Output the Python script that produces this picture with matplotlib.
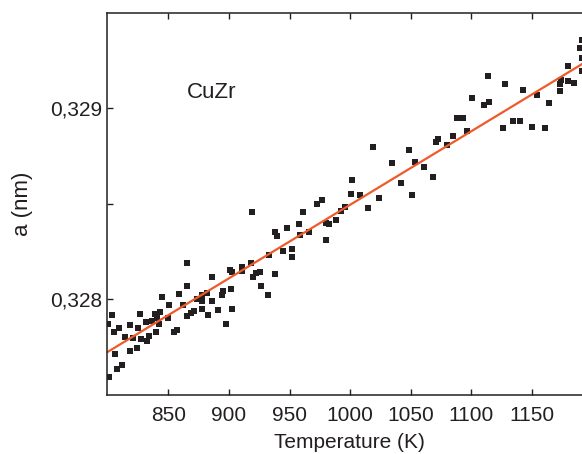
import numpy as np
import matplotlib.pyplot as plt
from matplotlib.ticker import FixedLocator, FuncFormatter

plt.rcParams['font.family'] = ['Liberation Sans', 'DejaVu Sans']

# Measured lattice parameter of CuZr vs temperature
temperature = [800.0, 801.1, 803.4, 805.3, 805.6, 807.3, 809.4, 811.9, 814.4, 818.2,
               818.2, 820.5, 824.3, 824.6, 826.7, 827.3, 831.2, 832.0, 833.9, 836.2,
               839.1, 839.7, 840.3, 842.4, 843.0, 844.4, 849.9, 850.4, 854.6, 856.8,
               859.0, 862.3, 865.6, 865.6, 865.1, 868.4, 871.3, 873.3, 877.5, 878.0,
               877.5, 881.6, 882.9, 885.7, 886.2, 891.2, 895.3, 894.5, 897.5, 900.8,
               902.2, 901.6, 902.7, 910.5, 910.5, 918.2, 919.4, 920.1, 922.0, 925.6,
               926.2, 932.4, 933.0, 938.0, 939.9, 938.0, 944.8, 947.9, 951.8, 952.3,
               958.0, 958.6, 961.4, 966.1, 972.4, 977.0, 980.1, 982.8, 980.1, 988.4,
               992.5, 995.8, 1001.3, 1000.7, 1008.2, 1014.4, 1019.2, 1023.7, 1034.4, 1042.0,
               1048.6, 1050.9, 1053.6, 1061.2, 1068.6, 1071.0, 1072.2, 1079.8, 1085.2, 1088.5,
               1093.5, 1096.8, 1100.4, 1110.6, 1114.1, 1114.5, 1126.1, 1128.1, 1134.9, 1140.5,
               1142.4, 1150.0, 1154.3, 1160.9, 1164.5, 1173.3, 1173.7, 1174.0, 1179.7, 1184.7,
               1180.2, 1189.9, 1191.3, 1191.3, 1191.3]
lattice_a = [0.327873, 0.327596, 0.327917, 0.327828, 0.327716, 0.327638, 0.327849, 0.327658, 0.327802, 0.327867,
             0.327729, 0.327797, 0.327745, 0.327851, 0.327924, 0.327795, 0.327882, 0.327785, 0.327811, 0.327885,
             0.327924, 0.327828, 0.327905, 0.327872, 0.327932, 0.328013, 0.327903, 0.327972, 0.327832, 0.327841,
             0.328030, 0.327972, 0.328193, 0.328070, 0.327914, 0.327929, 0.327940, 0.328004, 0.328024, 0.327993,
             0.327950, 0.328033, 0.327920, 0.328118, 0.327990, 0.327943, 0.328042, 0.328024, 0.327871, 0.328153,
             0.328143, 0.328054, 0.327950, 0.328172, 0.328149, 0.328191, 0.328458, 0.328118, 0.328137, 0.328143,
             0.328070, 0.328023, 0.328233, 0.328354, 0.328332, 0.328135, 0.328254, 0.328375, 0.328262, 0.328221,
             0.328394, 0.328337, 0.328458, 0.328353, 0.328498, 0.328518, 0.328398, 0.328394, 0.328311, 0.328415,
             0.328462, 0.328483, 0.328623, 0.328553, 0.328545, 0.328478, 0.328800, 0.328532, 0.328716, 0.328609,
             0.328783, 0.328544, 0.328717, 0.328694, 0.328642, 0.328823, 0.328837, 0.328807, 0.328853, 0.328947,
             0.328947, 0.328881, 0.329054, 0.329018, 0.329167, 0.329035, 0.328898, 0.329128, 0.328932, 0.328932,
             0.329096, 0.328900, 0.329070, 0.328898, 0.329026, 0.329090, 0.329127, 0.329150, 0.329144, 0.329132,
             0.329222, 0.329315, 0.329357, 0.329261, 0.329196]

# linear fit drawn in the original figure
fit_T = [800, 1200]
fit_a = [0.327726, 0.329264]

x_ticks = [850, 900, 950, 1000, 1050, 1100, 1150]
y_ticks = [0.328, 0.329]

fig = plt.figure(figsize=(5.82, 4.54), dpi=100)
ax = fig.add_axes([0.1833, 0.130, 0.8344, 0.842])

ax.plot(temperature, lattice_a, 's', color='#231f20', markersize=4.4, markeredgewidth=0)
ax.plot(fit_T, fit_a, '-', color='#ef5a2a', linewidth=1.6)

ax.set_xlim(799, 1200)
ax.set_ylim(0.3275, 0.3295)
ax.set_xticks(x_ticks)
ax.yaxis.set_major_locator(FixedLocator(y_ticks))
ax.yaxis.set_minor_locator(FixedLocator([0.3285]))
ax.yaxis.set_major_formatter(FuncFormatter(lambda v, p: f'{v:.3f}'.replace('.', ',')))

ax.tick_params(which='both', direction='in', length=4, width=1, labelsize=15,
               top=True, right=False, colors='#231f20')
ax.tick_params(axis='x', pad=8)
for s in ax.spines.values():
    s.set_linewidth(1.1)
    s.set_color('#231f20')

ax.set_xlabel('Temperature (K)', fontsize=15, color='#231f20', labelpad=6)
ax.set_ylabel('a (nm)', fontsize=16, color='#231f20', labelpad=12)
ax.text(865, 0.32908, 'CuZr', fontsize=16, color='#231f20', va='center')

fig.savefig('out.png', dpi=100)
